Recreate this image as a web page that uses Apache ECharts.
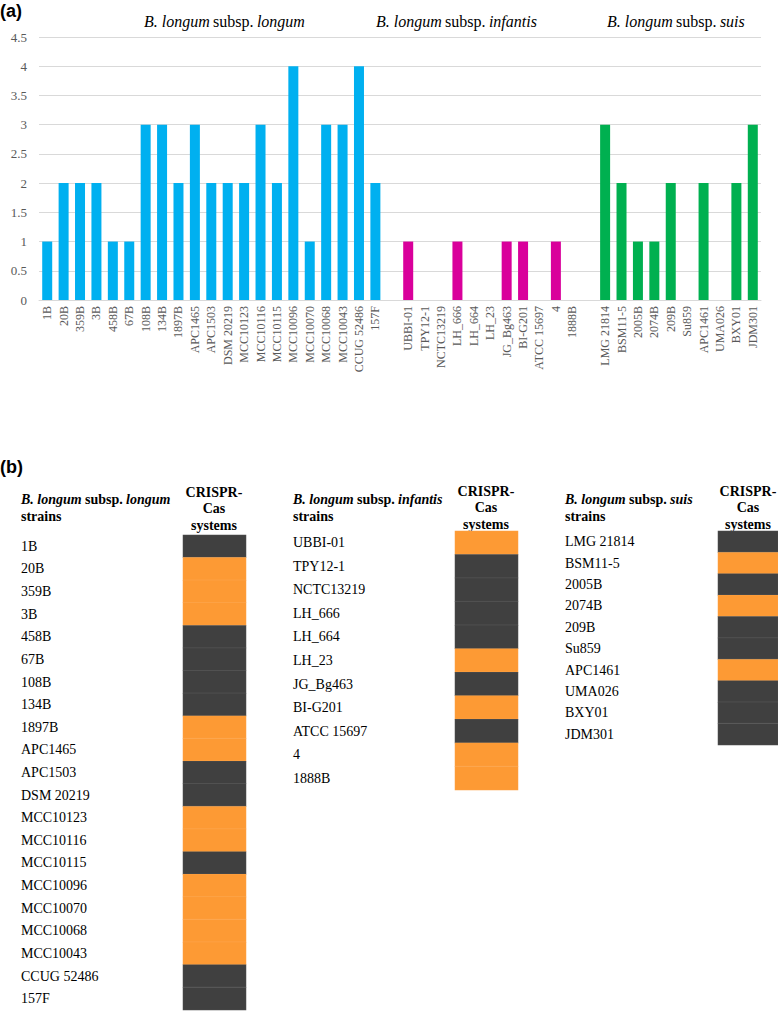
<!DOCTYPE html>
<html>
<head>
<meta charset="utf-8">
<style>
html,body{margin:0;padding:0;background:#fff;}
#chart{width:778px;height:1011px;}
</style>
<script src="https://cdn.jsdelivr.net/npm/echarts@6/dist/echarts.min.js"></script>
</head>
<body>
<div id="chart"></div>
<script>
// ---- Data: panel (a) number of CRISPR-Cas systems per strain ----
const longumStrains = ['1B','20B','359B','3B','458B','67B','108B','134B','1897B','APC1465','APC1503','DSM 20219','MCC10123','MCC10116','MCC10115','MCC10096','MCC10070','MCC10068','MCC10043','CCUG 52486','157F'];
const longumValues  = [1,2,2,2,1,1,3,3,2,3,2,2,2,3,2,4,1,3,3,4,2];
const infantisStrains = ['UBBI-01','TPY12-1','NCTC13219','LH_666','LH_664','LH_23','JG_Bg463','BI-G201','ATCC 15697','4','1888B'];
const infantisValues  = [1,0,0,1,0,0,1,1,0,1,0];
const suisStrains = ['LMG 21814','BSM11-5','2005B','2074B','209B','Su859','APC1461','UMA026','BXY01','JDM301'];
const suisValues  = [3,2,1,1,2,0,2,0,2,3];
const yTicks = [0,0.5,1,1.5,2,2.5,3,3.5,4,4.5];

// ---- Data: panel (b) presence (1 = orange) / absence (0 = dark) ----
const longumCrispr   = [0,1,1,1,0,0,0,0,1,1,0,0,1,1,0,1,1,1,1,0,0];
const infantisCrispr = [1,0,0,0,0,1,0,1,0,1,1];
const suisCrispr     = [0,1,0,1,0,0,1,0,0,0];

// ---- Build combined category axis with spacer slots ----
const categories = [...longumStrains, '', ...infantisStrains, ' ', ...suisStrains];
const nL = longumStrains.length, nI = infantisStrains.length;
function pad(vals, offset){
  const arr = categories.map(() => null);
  vals.forEach((v, i) => { arr[offset + i] = v; });
  return arr;
}
const longumData = pad(longumValues, 0);
const infantisData = pad(infantisValues, nL + 1);
const suisData = pad(suisValues, nL + 1 + nI + 1);

const serif = '"Liberation Serif", "Times New Roman", serif';
const sans = '"Liberation Sans", Arial, sans-serif';
const DARK = '#404040', ORANGE = '#FD9A34';

function heat(vals){ return vals.map((v, i) => [0, i, v]); }

const heatYAxis = (gi, names, margin) => ({
  type: 'category', gridIndex: gi, data: names, inverse: true,
  axisLine: {show: false}, axisTick: {show: false}, splitLine: {show: false},
  axisLabel: {align: 'left', margin: margin, fontFamily: serif, fontSize: 14, color: '#000', padding: [6,0,0,0]}
});
const heatXAxis = (gi) => ({type: 'category', gridIndex: gi, data: ['CRISPR-Cas'], show: false});

const chart = echarts.init(document.getElementById('chart'), null, {renderer: 'svg'});
const option = {
  backgroundColor: '#fff',
  animation: false,
  grid: [
    {left: 39, right: 17, top: 37, height: 263},
    {left: 183, width: 63, top: 535, height: 475},
    {left: 455, width: 63, top: 531, height: 259},
    {left: 718, width: 60, top: 531, height: 214}
  ],
  xAxis: [
    {type: 'category', gridIndex: 0, data: categories,
     axisLine: {lineStyle: {color: '#D9D9D9'}}, axisTick: {show: false},
     axisLabel: {interval: 0, rotate: 90, fontFamily: serif, fontSize: 12, color: '#595959', margin: 6}},
    heatXAxis(1), heatXAxis(2), heatXAxis(3)
  ],
  yAxis: [
    {type: 'value', gridIndex: 0, min: yTicks[0], max: yTicks[yTicks.length-1], interval: 0.5,
     axisLine: {show: false}, axisTick: {show: false},
     splitLine: {lineStyle: {color: '#D9D9D9', width: 1}},
     axisLabel: {fontFamily: serif, fontSize: 13, color: '#595959', margin: 12}},
    heatYAxis(1, longumStrains, 162),
    heatYAxis(2, infantisStrains, 162),
    heatYAxis(3, suisStrains, 153)
  ],
  visualMap: {
    type: 'piecewise', show: false, seriesIndex: [3,4,5], dimension: 2,
    pieces: [{value: 0, color: DARK}, {value: 1, color: ORANGE}]
  },
  series: [
    {type: 'bar', xAxisIndex: 0, yAxisIndex: 0, data: longumData, barWidth: 10, barGap: '-100%', itemStyle: {color: '#00B0F0'}},
    {type: 'bar', xAxisIndex: 0, yAxisIndex: 0, data: infantisData, barWidth: 10, barGap: '-100%', itemStyle: {color: '#D9009B'}},
    {type: 'bar', xAxisIndex: 0, yAxisIndex: 0, data: suisData, barWidth: 10, barGap: '-100%', itemStyle: {color: '#00B050'}},
    {type: 'heatmap', xAxisIndex: 1, yAxisIndex: 1, data: heat(longumCrispr), itemStyle: {borderColor: 'rgba(255,255,255,0.08)', borderWidth: 1}},
    {type: 'heatmap', xAxisIndex: 2, yAxisIndex: 2, data: heat(infantisCrispr), itemStyle: {borderColor: 'rgba(255,255,255,0.08)', borderWidth: 1}},
    {type: 'heatmap', xAxisIndex: 3, yAxisIndex: 3, data: heat(suisCrispr), itemStyle: {borderColor: 'rgba(255,255,255,0.08)', borderWidth: 1}}
  ],
  graphic: [
    {type: 'text', left: 0, top: 2, style: {text: '(a)', font: 'bold 18px ' + sans, fill: '#000'}},
    {type: 'text', left: 0, top: 458, style: {text: '(b)', font: 'bold 18px ' + sans, fill: '#000'}},
    ...[[144,'longum'],[376,'infantis'],[607,'suis']].map(([x, s]) => ({
      type: 'text', left: x, top: 13,
      style: {text: '{i|B. longum} {n|subsp.} {i|' + s + '}', fill: '#000',
        rich: {i: {fontFamily: serif, fontSize: 16, fontStyle: 'italic', fill: '#000'},
               n: {fontFamily: serif, fontSize: 16, fill: '#000'}}}
    })),
    ...[[21,'longum'],[293,'infantis'],[565,'suis']].map(([x, s]) => ({
      type: 'text', left: x, top: 492,
      style: {text: '{i|B. longum} {n|subsp.} {i|' + s + '}\n{n|strains}', fill: '#000',
        rich: {i: {fontFamily: serif, fontSize: 14, fontStyle: 'italic', fontWeight: 'bold', fill: '#000', lineHeight: 17},
               n: {fontFamily: serif, fontSize: 14, fontWeight: 'bold', fill: '#000', lineHeight: 17}}}
    })),
    ...[[214,484],[486,483],[748,483]].map(([x, y]) => ({
      type: 'text', x: x, y: y,
      style: {text: 'CRISPR-\nCas\nsystems', font: 'bold 14px ' + serif, fill: '#000', align: 'center', verticalAlign: 'top', lineHeight: 16.5}
    }))
  ]
};
chart.setOption(option);
</script>
</body>
</html>
